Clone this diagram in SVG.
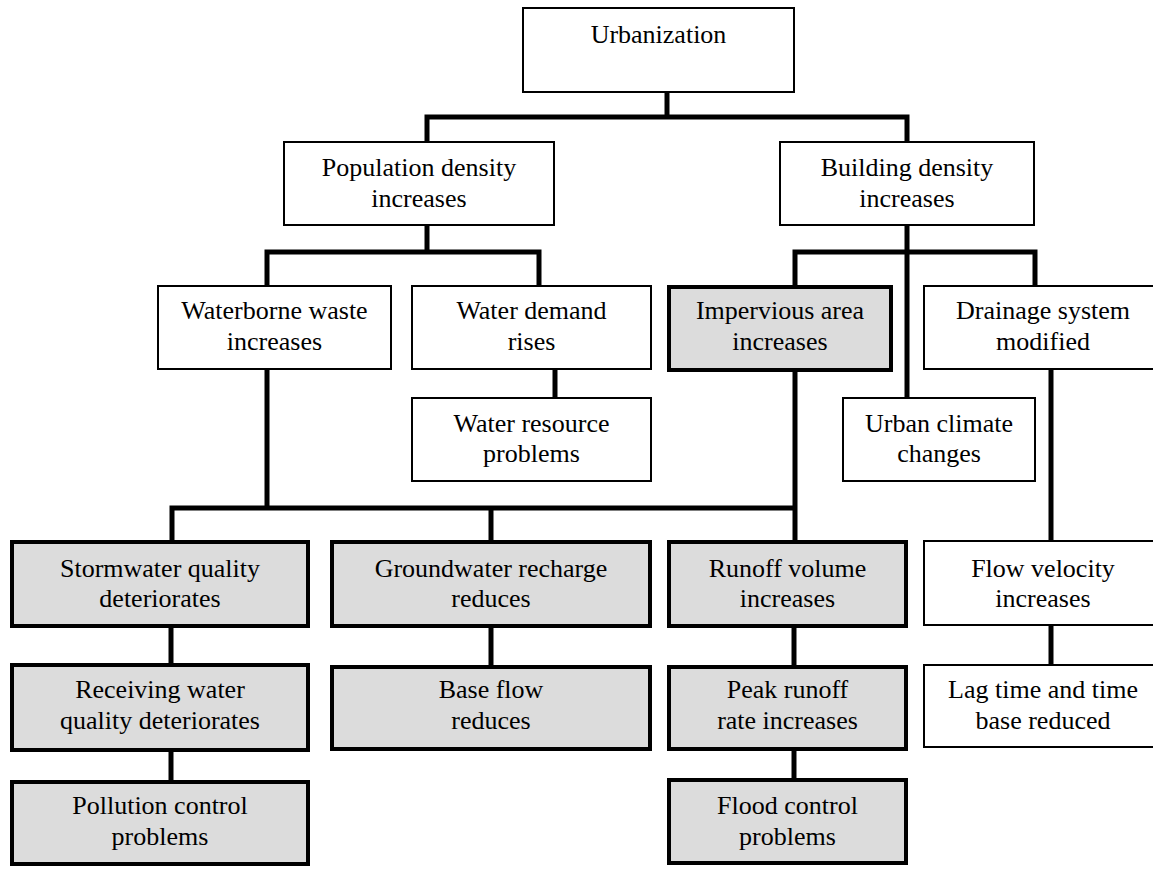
<svg xmlns="http://www.w3.org/2000/svg" width="1153" height="869" viewBox="0 0 1153 869">
<style>
.box{fill:#fff;stroke:#000;stroke-width:2}
.gbox{fill:#dcdcdc;stroke:#000;stroke-width:4}
.t{font-family:"Liberation Serif","Times New Roman",serif;font-size:26px;text-anchor:middle;fill:#000}
.c{fill:none;stroke:#000;stroke-width:5;stroke-linejoin:miter;stroke-linecap:butt}
</style>
<rect width="1153" height="869" fill="#fff"/>
<g id="connectors">
<path class="c" d="M667,93 V117"/>
<path class="c" d="M427,141 V117 H907 V141"/>
<path class="c" d="M427,226 V252"/>
<path class="c" d="M267,285 V252 H539 V285"/>
<path class="c" d="M555,370 V397"/>
<path class="c" d="M907,226 V397"/>
<path class="c" d="M795,285 V252 H1035 V285"/>
<path class="c" d="M795,372 V540"/>
<path class="c" d="M267,370 V508"/>
<path class="c" d="M172,540 V508 H797"/>
<path class="c" d="M491,508 V540"/>
<path class="c" d="M1051,370 V540"/>
<path class="c" d="M171,628 V665"/>
<path class="c" d="M171,752 V782"/>
<path class="c" d="M491,628 V667"/>
<path class="c" d="M794,628 V667"/>
<path class="c" d="M794,751 V780"/>
<path class="c" d="M1051,626 V665"/>
</g>
<g id="urbanization"><rect class="box" x="523" y="8" width="271" height="84"/><text class="t" x="658.5" y="43">Urbanization</text></g>
<g id="population"><rect class="box" x="284" y="142" width="270" height="83"/><text class="t" x="419" y="176">Population density</text><text class="t" x="419" y="207">increases</text></g>
<g id="building"><rect class="box" x="780" y="142" width="254" height="83"/><text class="t" x="907" y="176">Building density</text><text class="t" x="907" y="207">increases</text></g>
<g id="waterborne"><rect class="box" x="158" y="286" width="233" height="83"/><text class="t" x="274.5" y="319">Waterborne waste</text><text class="t" x="274.5" y="350">increases</text></g>
<g id="waterdemand"><rect class="box" x="412" y="286" width="239" height="83"/><text class="t" x="531.5" y="319">Water demand</text><text class="t" x="531.5" y="350">rises</text></g>
<g id="impervious"><rect class="gbox" x="669" y="287" width="222" height="83"/><text class="t" x="780" y="319">Impervious area</text><text class="t" x="780" y="350">increases</text></g>
<g id="drainage"><rect class="box" x="924" y="286" width="240" height="83"/><text class="t" x="1043" y="319">Drainage system</text><text class="t" x="1043" y="350">modified</text></g>
<g id="waterresource"><rect class="box" x="412" y="398" width="239" height="83"/><text class="t" x="531.5" y="432">Water resource</text><text class="t" x="531.5" y="462">problems</text></g>
<g id="urbanclimate"><rect class="box" x="843" y="398" width="192" height="83"/><text class="t" x="939" y="432">Urban climate</text><text class="t" x="939" y="462">changes</text></g>
<g id="stormwater"><rect class="gbox" x="12" y="542" width="296" height="84"/><text class="t" x="160" y="577">Stormwater quality</text><text class="t" x="160" y="607">deteriorates</text></g>
<g id="groundwater"><rect class="gbox" x="332" y="542" width="318" height="84"/><text class="t" x="491" y="577">Groundwater recharge</text><text class="t" x="491" y="607">reduces</text></g>
<g id="runoff"><rect class="gbox" x="669" y="542" width="237" height="84"/><text class="t" x="787.5" y="577">Runoff volume</text><text class="t" x="787.5" y="607">increases</text></g>
<g id="flowvelocity"><rect class="box" x="924" y="541" width="240" height="84"/><text class="t" x="1043" y="577">Flow velocity</text><text class="t" x="1043" y="607">increases</text></g>
<g id="receiving"><rect class="gbox" x="12" y="665" width="296" height="85"/><text class="t" x="160" y="698">Receiving water</text><text class="t" x="160" y="729">quality deteriorates</text></g>
<g id="baseflow"><rect class="gbox" x="332" y="667" width="318" height="82"/><text class="t" x="491" y="698">Base flow</text><text class="t" x="491" y="729">reduces</text></g>
<g id="peak"><rect class="gbox" x="669" y="667" width="237" height="82"/><text class="t" x="787.5" y="698">Peak runoff</text><text class="t" x="787.5" y="729">rate increases</text></g>
<g id="lag"><rect class="box" x="924" y="665" width="240" height="82"/><text class="t" x="1043" y="698">Lag time and time</text><text class="t" x="1043" y="729">base reduced</text></g>
<g id="pollution"><rect class="gbox" x="12" y="782" width="296" height="82"/><text class="t" x="160" y="814">Pollution control</text><text class="t" x="160" y="845">problems</text></g>
<g id="flood"><rect class="gbox" x="669" y="780" width="237" height="83"/><text class="t" x="787.5" y="814">Flood control</text><text class="t" x="787.5" y="845">problems</text></g>
</svg>
